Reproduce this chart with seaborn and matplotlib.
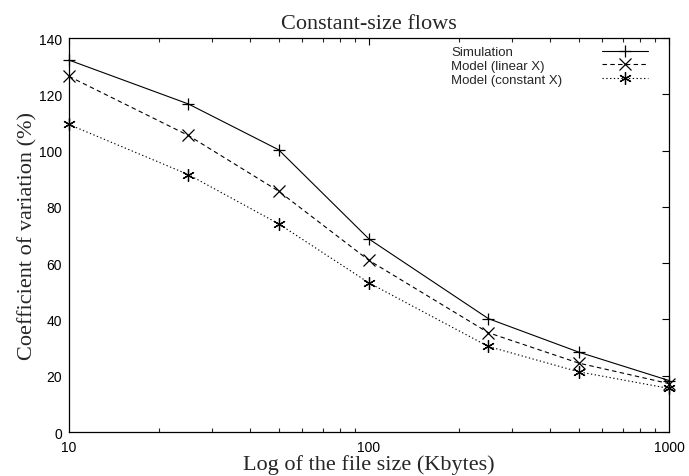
import matplotlib
matplotlib.use("Agg")
import matplotlib.pyplot as plt
import seaborn as sns
import pandas as pd
from matplotlib.ticker import LogLocator, NullFormatter, FixedLocator

file_size = [10, 25, 50, 100, 250, 500, 1000]
simulation = [132.2, 116.6, 100.3, 68.6, 40.3, 28.4, 18.3]
model_linear = [126.4, 105.4, 85.6, 61.0, 35.3, 24.5, 17.2]
model_constant = [109.3, 91.5, 74.0, 53.0, 30.4, 21.4, 15.5]
series_names = ["Simulation", "Model (linear X)", "Model (constant X)"]
y_ticks = [0, 20, 40, 60, 80, 100, 120, 140]
x_ticks = [10, 100, 1000]
x_tick_labels = ["10", "100", "1000"]

sns.set_style("white")
plt.rcParams['font.family'] = ['Liberation Sans', 'DejaVu Sans']

df = pd.DataFrame({
    "size": file_size * 3,
    "cv": simulation + model_linear + model_constant,
    "series": [series_names[0]] * 7 + [series_names[1]] * 7 + [series_names[2]] * 7,
})

fig = plt.figure(figsize=(6.89, 4.77), dpi=100)
ax = fig.add_axes([0.1001, 0.0922, 0.8709, 0.8258])

styles = [
    dict(ls="-", marker="+", ms=8.5),
    dict(ls=(0, (4, 3)), marker="x", ms=8),
    dict(ls=(0, (1.2, 2.2)), marker=(6, 2, 0), ms=9),
]
for name, st in zip(series_names, styles):
    sub = df[df["series"] == name]
    sns.lineplot(data=sub, x="size", y="cv", ax=ax, color="black", lw=0.8,
                 linestyle=st["ls"], marker=st["marker"], markersize=st["ms"],
                 markeredgewidth=0.9, markeredgecolor="black",
                 label=name, legend=False, clip_on=False)

ax.set_xscale("log")
ax.set_xlim(10, 1000)
ax.set_ylim(0, 140)
ax.yaxis.set_major_locator(FixedLocator(y_ticks))
ax.xaxis.set_major_locator(FixedLocator(x_ticks))
ax.set_xticklabels(x_tick_labels)
ax.xaxis.set_minor_locator(LogLocator(base=10, subs=range(2, 10)))
ax.xaxis.set_minor_formatter(NullFormatter())
ax.tick_params(axis="both", which="major", direction="in", length=5, width=0.8,
               top=True, right=True, labelsize=10, colors="black")
ax.tick_params(axis="y", which="major", pad=5)
ax.tick_params(axis="x", which="major", pad=6)
ax.tick_params(axis="x", which="minor", direction="in", length=3, width=0.8,
               top=True, bottom=True)
for s in ax.spines.values():
    s.set_color("black")
    s.set_linewidth(0.9)

ax.set_xlabel("Log of the file size (Kbytes)", fontfamily="Liberation Serif",
              fontsize=16, labelpad=0)
ax.set_ylabel("Coefficient of variation (%)", fontfamily="Liberation Serif",
              fontsize=16, labelpad=1)
ax.set_title("Constant-size flows", fontfamily="Liberation Serif", fontsize=16, pad=7)

leg = ax.legend(loc="upper right", bbox_to_anchor=(0.965, 0.98), frameon=False,
                markerfirst=False, fontsize=9.5, handlelength=3.5, handletextpad=3.0,
                labelspacing=0.12, borderaxespad=0.0, borderpad=0.0)
# left-align legend labels (gnuplot style): text on the left, samples on the right
try:
    fig.canvas.draw()
    r = fig.canvas.get_renderer()
    cols = leg._legend_handle_box.get_children()
    for col in cols:
        items = col.get_children()
        widths = [it.get_bbox(r).width for it in items]
        W = max(widths)
        for it in items:
            it.mode = "expand"
            it.width = W
except Exception:
    pass

fig.savefig("out.png", dpi=100)
